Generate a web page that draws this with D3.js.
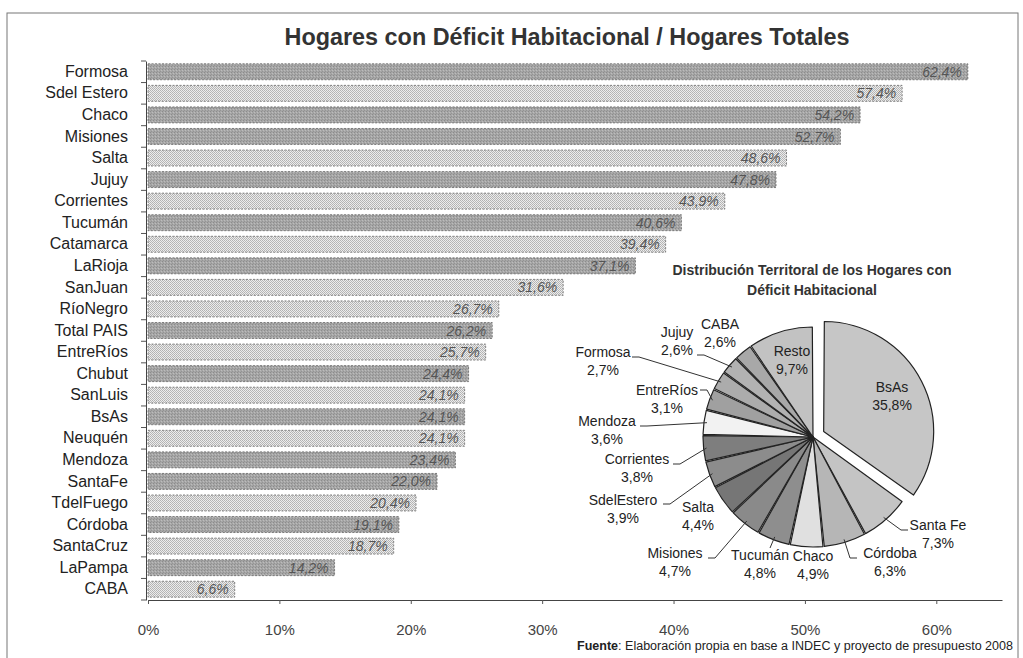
<!DOCTYPE html>
<html>
<head>
<meta charset="utf-8">
<script src="https://cdn.jsdelivr.net/npm/d3@7"></script>
<style>
body { margin: 0; background: #fff; }
text { font-family: "Liberation Sans", Arial, sans-serif; }
</style>
</head>
<body>
<svg id="chart" width="1023" height="658"></svg>
<script>
// barras: hogares con deficit / hogares totales (%)
const provincias = ["Formosa", "Sdel Estero", "Chaco", "Misiones", "Salta", "Jujuy", "Corrientes",
    "Tucumán", "Catamarca", "LaRioja", "SanJuan", "RíoNegro", "Total PAIS", "EntreRíos", "Chubut",
    "SanLuis", "BsAs", "Neuquén", "Mendoza", "SantaFe", "TdelFuego", "Córdoba", "SantaCruz",
    "LaPampa", "CABA"];
const deficit = [62.4, 57.4, 54.2, 52.7, 48.6, 47.8, 43.9, 40.6, 39.4, 37.1, 31.6, 26.7, 26.2,
    25.7, 24.4, 24.1, 24.1, 24.1, 23.4, 22.0, 20.4, 19.1, 18.7, 14.2, 6.6];
// o = trama oscura, p = punteado claro
const trama = ["o", "p", "o", "o", "p", "o", "p", "o", "p", "o", "p", "p", "o", "p", "o", "p",
    "o", "p", "o", "o", "p", "o", "p", "o", "p"];
const ticksX = [0, 10, 20, 30, 40, 50, 60];

// torta: distribucion territorial
const zonas = ["BsAs", "Santa Fe", "Córdoba", "Chaco", "Tucumán", "Misiones", "Salta", "SdelEstero",
    "Corrientes", "Mendoza", "EntreRíos", "Formosa", "Jujuy", "CABA", "Resto"];
const participacion = [35.8, 7.3, 6.3, 4.9, 4.8, 4.7, 4.4, 3.9, 3.8, 3.6, 3.1, 2.7, 2.6, 2.6, 9.7];

// estilos de la torta
const grises = ["#c6c6c6", "#c4c4c4", "#b6b6b6", "#e0e0e0", "#8e8e8e", "#8a8a8a", "#767676",
    "#8c8c8c", "#7e7e7e", "#f2f2f2", "#a0a0a0", "#acacac", "#b2b2b2", "#a8a8a8", "#c2c2c2"];
// ubicacion de etiquetas: [x, y, inicio linea x, inicio linea y, sentido codo]
const etiquetas = {
    "BsAs": [892, 396],
    "Resto": [792, 360],
    "Santa Fe": [938, 534, 908, 530, -1],
    "Córdoba": [890, 562, 857, 558, -1],
    "Chaco": [813, 565],
    "Tucumán": [760, 564, 770, 548, 0],
    "Misiones": [675, 562, 708, 558, 1],
    "Salta": [698, 516],
    "SdelEstero": [623, 509, 663, 504, 1],
    "Corrientes": [637, 468, 673, 464, 1],
    "Mendoza": [607, 430, 640, 426, 1],
    "EntreRíos": [667, 399, 700, 390, 1],
    "Formosa": [603, 361, 632, 357, 1],
    "Jujuy": [677, 341, 697, 355, 1],
    "CABA": [720, 333]
};

const svg = d3.select("#chart");
const coma = v => d3.format(".1f")(v).replace(".", ",") + "%";

// tramas
const defs = svg.append("defs");
const pOsc = defs.append("pattern").attr("id", "oscuro")
    .attr("patternUnits", "userSpaceOnUse").attr("width", 3).attr("height", 3);
pOsc.append("rect").attr("width", 3).attr("height", 3).attr("fill", "#a6a6a6");
pOsc.append("rect").attr("x", 0).attr("y", 0).attr("width", 1).attr("height", 1).attr("fill", "#8c8c8c");
pOsc.append("rect").attr("x", 2).attr("y", 1).attr("width", 1).attr("height", 1).attr("fill", "#bcbcbc");
pOsc.append("rect").attr("x", 1).attr("y", 2).attr("width", 1).attr("height", 1).attr("fill", "#949494");
const pPun = defs.append("pattern").attr("id", "punteado")
    .attr("patternUnits", "userSpaceOnUse").attr("width", 2).attr("height", 2);
pPun.append("rect").attr("width", 2).attr("height", 2).attr("fill", "#ececec");
pPun.append("rect").attr("x", 0).attr("y", 0).attr("width", 1).attr("height", 1).attr("fill", "#b2b2b2");
pPun.append("rect").attr("x", 1).attr("y", 1).attr("width", 1).attr("height", 1).attr("fill", "#b8b8b8");

// marco
svg.append("rect")
    .attr("x", 7).attr("y", 13).attr("width", 1011).attr("height", 700)
    .attr("fill", "none").attr("stroke", "#777").attr("stroke-width", 1);

svg.append("text")
    .attr("x", 567).attr("y", 45)
    .attr("text-anchor", "middle")
    .attr("font-size", 23).attr("font-weight", "bold").attr("fill", "#333")
    .attr("textLength", 565).attr("lengthAdjust", "spacingAndGlyphs")
    .text("Hogares con Déficit Habitacional /  Hogares Totales");

// escalas
const x = d3.scaleLinear().domain([0, 65]).range([148, 1002]);
const y = d3.scaleBand().domain(provincias).range([61, 600])
    .paddingInner(0.26).paddingOuter(0.13);

const filas = provincias.map((p, i) => ({ p: p, v: deficit[i], t: trama[i] }));

// barras
svg.append("g").selectAll("rect")
    .data(filas)
    .enter().append("rect")
    .attr("x", x(0))
    .attr("y", d => y(d.p))
    .attr("width", d => x(d.v) - x(0))
    .attr("height", y.bandwidth())
    .attr("fill", d => d.t == "o" ? "url(#oscuro)" : "url(#punteado)")
    .attr("stroke", "#666")
    .attr("stroke-width", 0.8)
    .attr("stroke-dasharray", "2,1.5");

svg.append("g").selectAll("text")
    .data(filas)
    .enter().append("text")
    .attr("x", d => x(d.v) - 6)
    .attr("y", d => y(d.p) + y.bandwidth() / 2)
    .attr("dy", "0.36em")
    .attr("text-anchor", "end")
    .attr("font-size", 14).attr("font-style", "italic").attr("fill", "#555")
    .text(d => coma(d.v));

// eje Y
const ejeY = svg.append("g")
    .attr("transform", "translate(146,0)")
    .call(d3.axisLeft(y).tickSize(0).tickSizeOuter(0).tickPadding(18));
ejeY.select(".domain").attr("stroke", "#444");
ejeY.selectAll("text").attr("font-size", 16).attr("fill", "#222")
    .attr("font-family", "Liberation Sans, Arial, sans-serif");
svg.append("g").selectAll("line")
    .data(d3.range(provincias.length + 1))
    .enter().append("line")
    .attr("x1", 141).attr("x2", 146)
    .attr("y1", i => y.range()[0] + i * y.step())
    .attr("y2", i => y.range()[0] + i * y.step())
    .attr("stroke", "#555").attr("stroke-width", 1);

// eje X
const ejeX = svg.append("g")
    .attr("transform", "translate(0,600)")
    .call(d3.axisBottom(x).tickValues(ticksX).tickFormat(d => d + "%")
        .tickSize(4).tickSizeOuter(0).tickPadding(20));
ejeX.select(".domain").attr("stroke", "#444");
ejeX.selectAll(".tick line").attr("stroke", "#555");
ejeX.selectAll("text").attr("font-size", 15).attr("fill", "#444")
    .attr("font-family", "Liberation Sans, Arial, sans-serif");

// fuente
const fuente = svg.append("text")
    .attr("x", 1013).attr("y", 650)
    .attr("text-anchor", "end")
    .attr("font-size", 12.5).attr("fill", "#222")
    .attr("textLength", 436).attr("lengthAdjust", "spacingAndGlyphs");
fuente.append("tspan").attr("font-weight", "bold").text("Fuente");
fuente.append("tspan").text(": Elaboración propia en base a INDEC y proyecto de presupuesto 2008");

// torta
svg.append("text")
    .attr("x", 812).attr("y", 275)
    .attr("text-anchor", "middle").attr("font-size", 14).attr("font-weight", "bold").attr("fill", "#333")
    .text("Distribución Territoral de los Hogares con");
svg.append("text")
    .attr("x", 812).attr("y", 295)
    .attr("text-anchor", "middle").attr("font-size", 14).attr("font-weight", "bold").attr("fill", "#333")
    .text("Déficit Habitacional");

const cx = 813, cy = 437, radio = 110;
const porciones = d3.pie().sort(null).padAngle(0.012)
    .value(d => d.v)(zonas.map((z, i) => ({ z: z, v: participacion[i], c: grises[i] })));
const arco = d3.arc().innerRadius(0).outerRadius(radio);

const torta = svg.append("g").attr("transform", `translate(${cx},${cy})`);
torta.selectAll("path")
    .data(porciones)
    .enter().append("path")
    .attr("d", arco)
    .attr("transform", d => {
        if (d.data.z != "BsAs") return null;
        const m = (d.startAngle + d.endAngle) / 2;
        return `translate(${Math.sin(m) * 12},${-Math.cos(m) * 12})`;
    })
    .attr("fill", d => d.data.c)
    .attr("stroke", "#222")
    .attr("stroke-width", 1.2)
    .attr("stroke-linejoin", "round");

// lineas guia
porciones.forEach(d => {
    const e = etiquetas[d.data.z];
    if (!e || e.length < 3) return;
    const m = (d.startAngle + d.endAngle) / 2;
    const px = cx + Math.sin(m) * (radio - 3);
    const py = cy - Math.cos(m) * (radio - 3);
    const pts = [[e[2], e[3]]];
    if (e[4] != 0) pts.push([e[2] + e[4] * 7, e[3]]);
    pts.push([px, py]);
    svg.append("path")
        .attr("d", d3.line()(pts))
        .attr("fill", "none").attr("stroke", "#333").attr("stroke-width", 1);
});

// etiquetas de la torta
porciones.forEach(d => {
    const e = etiquetas[d.data.z];
    const t = svg.append("text")
        .attr("text-anchor", "middle")
        .attr("font-size", 14).attr("fill", "#222");
    t.append("tspan").attr("x", e[0]).attr("y", e[1] - 4).text(d.data.z);
    t.append("tspan").attr("x", e[0]).attr("y", e[1] + 14).text(coma(d.data.v));
});
</script>
</body>
</html>
